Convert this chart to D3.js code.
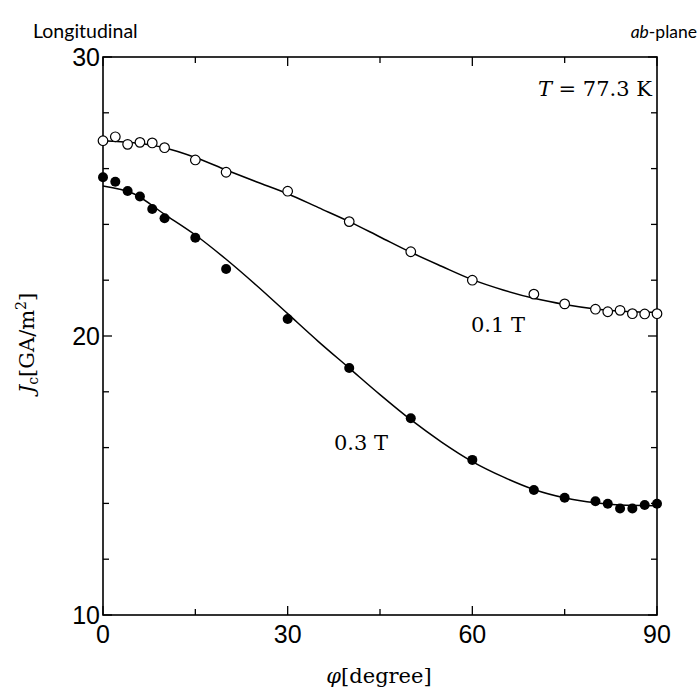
<!DOCTYPE html>
<html>
<head>
<meta charset="utf-8">
<script src="https://cdn.jsdelivr.net/npm/d3@7"></script>
<style>
  body { margin: 0; background: #fff; }
  svg { display: block; }
  .num { font-family: "Liberation Sans", Arial, sans-serif; font-size: 25px; fill: #000; }
  .math { font-family: "DejaVu Serif", "Liberation Serif", serif; font-size: 21px; fill: #000; }
  .note { font-family: Lato, "Open Sans", sans-serif; font-size: 17.5px; fill: #000; }
</style>
</head>
<body>
<div id="chart"></div>
<script>
const width = 700;
const height = 693;

// measured angles (degree)
const angles = [0, 2, 4, 6, 8, 10, 15, 20, 30, 40, 50, 60, 70, 75, 80, 82, 84, 86, 88, 90];
// Jc at 0.1 T (open circles)
const jc01 = [27.0, 27.14, 26.87, 26.94, 26.92, 26.75, 26.31, 25.87, 25.19, 24.1, 23.02, 22.0, 21.5, 21.15, 20.96, 20.87, 20.92, 20.8, 20.79, 20.8];
// Jc at 0.3 T (filled circles)
const jc03 = [25.69, 25.53, 25.2, 25.0, 24.55, 24.22, 23.52, 22.4, 20.61, 18.85, 17.05, 15.56, 14.48, 14.2, 14.08, 13.99, 13.82, 13.82, 13.94, 13.99];

// fitted curves
const fitAngles = [0, 5, 10, 15, 20, 25, 30, 35, 40, 45, 50, 55, 60, 65, 70, 75, 80, 85, 90];
const fit01 = [27.0, 26.93, 26.75, 26.4, 25.95, 25.52, 25.1, 24.6, 24.1, 23.55, 23.0, 22.5, 22.02, 21.65, 21.35, 21.13, 20.97, 20.88, 20.85];
const fit03 = [25.38, 25.1, 24.36, 23.62, 22.75, 21.8, 20.8, 19.8, 18.85, 17.9, 17.0, 16.2, 15.5, 14.95, 14.5, 14.2, 14.02, 13.93, 13.92];

const xTicks = [0, 30, 60, 90];
const xMinor = [15, 45, 75];
const yTicks = [10, 20, 30];
const yMinor = [12, 14, 16, 18, 22, 24, 26, 28];

const x = d3.scaleLinear().domain([0, 90]).range([103, 657]);
const y = d3.scaleLinear().domain([10, 30]).range([615, 57]);

const svg = d3.select("#chart").append("svg")
    .attr("width", width)
    .attr("height", height);

// frame
svg.append("rect")
    .attr("x", x(0)).attr("y", y(30))
    .attr("width", x(90) - x(0)).attr("height", y(10) - y(30))
    .attr("fill", "none").attr("stroke", "#000").attr("stroke-width", 1.6);

// inward ticks on all four sides
const tickLines = svg.append("g").attr("stroke", "#000").attr("stroke-width", 1.3);
xTicks.concat(xMinor).forEach(v => {
  const len = xTicks.includes(v) ? 9 : 6;
  tickLines.append("line").attr("x1", x(v)).attr("x2", x(v)).attr("y1", y(10)).attr("y2", y(10) - len);
  tickLines.append("line").attr("x1", x(v)).attr("x2", x(v)).attr("y1", y(30)).attr("y2", y(30) + len);
});
yTicks.concat(yMinor).forEach(v => {
  const len = yTicks.includes(v) ? 9 : 6;
  tickLines.append("line").attr("x1", x(0)).attr("x2", x(0) + len).attr("y1", y(v)).attr("y2", y(v));
  tickLines.append("line").attr("x1", x(90)).attr("x2", x(90) - len).attr("y1", y(v)).attr("y2", y(v));
});

// tick labels
svg.selectAll(".xl").data(xTicks).join("text")
    .attr("class", "num")
    .attr("x", d => x(d)).attr("y", 643)
    .attr("text-anchor", "middle")
    .text(d => d);
svg.selectAll(".yl").data(yTicks).join("text")
    .attr("class", "num")
    .attr("x", 100).attr("y", d => y(d) + 9)
    .attr("text-anchor", "end")
    .text(d => d);

// curves
const line = d3.line().x(d => x(d[0])).y(d => y(d[1])).curve(d3.curveMonotoneX);
[fit01, fit03].forEach(arr => {
  svg.append("path")
      .datum(fitAngles.map((a, i) => [a, arr[i]]))
      .attr("d", line)
      .attr("fill", "none").attr("stroke", "#000").attr("stroke-width", 1.5);
});

// markers
svg.selectAll(".open").data(angles.map((a, i) => [a, jc01[i]])).join("circle")
    .attr("cx", d => x(d[0])).attr("cy", d => y(d[1])).attr("r", 4.8)
    .attr("fill", "#fff").attr("stroke", "#000").attr("stroke-width", 1.2);
svg.selectAll(".filled").data(angles.map((a, i) => [a, jc03[i]])).join("circle")
    .attr("cx", d => x(d[0])).attr("cy", d => y(d[1])).attr("r", 5)
    .attr("fill", "#000");

// annotations
svg.append("text").attr("class", "note").attr("x", 33).attr("y", 38)
    .style("font-size", "19.5px").text("Longitudinal");
const ab = svg.append("text").attr("class", "note").attr("x", 697).attr("y", 38).attr("text-anchor", "end");
ab.append("tspan").attr("font-style", "italic").text("ab");
ab.append("tspan").text("-plane");

const tl = svg.append("text").attr("class", "math").attr("x", 652).attr("y", 96).attr("text-anchor", "end");
tl.append("tspan").attr("font-style", "italic").text("T");
tl.append("tspan").text(" = 77.3 K");

svg.append("text").attr("class", "math").attr("x", 471).attr("y", 332).text("0.1 T");
svg.append("text").attr("class", "math").attr("x", 334).attr("y", 450).text("0.3 T");

// axis titles
const xt = svg.append("text").attr("class", "math").attr("x", 379).attr("y", 683).attr("text-anchor", "middle");
xt.append("tspan").attr("font-style", "italic").text("φ");
xt.append("tspan").text("[degree]");

const yt = svg.append("text").attr("class", "math")
    .attr("transform", "translate(34,343) rotate(-90)")
    .attr("text-anchor", "middle");
yt.append("tspan").attr("font-style", "italic").text("J");
yt.append("tspan").attr("font-size", "14px").attr("dy", 4).text("c");
yt.append("tspan").attr("dy", -4).text("[GA/m");
yt.append("tspan").attr("font-size", "14px").attr("dy", -8).text("2");
yt.append("tspan").attr("dy", 8).text("]");
</script>
</body>
</html>
